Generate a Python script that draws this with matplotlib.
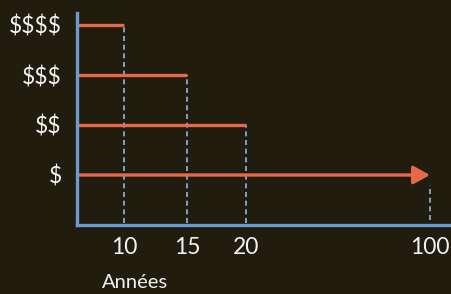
import numpy as np
import matplotlib.pyplot as plt

# data
labels = ['$', '$$', '$$$', '$$$$']
levels = [1, 2, 3, 4]
years = [100, 20, 15, 10]          # horizon for each cost level
xticks = [10, 15, 20, 100]

# layout: where each year sits along the (non proportional) axis
slot_years = [0, 10, 15, 20, 100, 110]
slot_pos = [0, 47, 110, 169, 353, 373]

bg = '#201c0e'
red = '#e8694a'
blue = '#6b9bd0'
dash = '#93b5de'
txt = '#f2f2f2'

plt.rcParams['font.family'] = ['Lato', 'DejaVu Sans']
plt.rcParams['text.parse_math'] = False

fig = plt.figure(figsize=(4.51, 2.94), dpi=100, facecolor=bg)
ax = fig.add_axes([77/451, 69/294, 373/451, 212/294], facecolor=bg)

fwd = lambda x: np.interp(x, slot_years, slot_pos)
inv = lambda p: np.interp(p, slot_pos, slot_years)
ax.set_xscale('function', functions=(fwd, inv))
ax.set_xlim(0, 110)
ax.set_ylim(0, 4.24)

for lv, yr in zip(levels, years):
    if yr == 100:
        ax.vlines(yr, 0.1, lv - 0.2, colors=dash, lw=1.2,
                  linestyles=(0, (3, 2.2)), zorder=1)
        ax.annotate('', xy=(yr, lv), xytext=(0.3, lv),
                    arrowprops=dict(arrowstyle='-|>,head_length=1.0,head_width=0.55',
                                    color=red, lw=2.4, shrinkA=0, shrinkB=0,
                                    mutation_scale=10), zorder=3)
    else:
        ax.vlines(yr, 0.05, lv, colors=dash, lw=1.2,
                  linestyles=(0, (3, 2.2)), zorder=1)
        ax.plot([0, yr], [lv, lv], color=red, lw=2.4, solid_capstyle='butt', zorder=2)

for s in ['top', 'right']:
    ax.spines[s].set_visible(False)
for s in ['left', 'bottom']:
    ax.spines[s].set_color(blue)
    ax.spines[s].set_linewidth(2.4)
    ax.spines[s].set_zorder(4)

ax.set_xticks(xticks)
ax.set_xticklabels([str(v) for v in xticks])
ax.set_yticks(levels)
ax.set_yticklabels(labels)
ax.tick_params(axis='x', length=0, pad=9, labelsize=16.5, colors=txt)
ax.tick_params(axis='y', length=0, pad=11, labelsize=16.5, colors=txt)
ax.minorticks_off()

fig.text(135/451, 1 - 283/294, 'Années', color=txt, fontsize=14.5, ha='center', va='center')

fig.savefig('out.png', facecolor=bg)
